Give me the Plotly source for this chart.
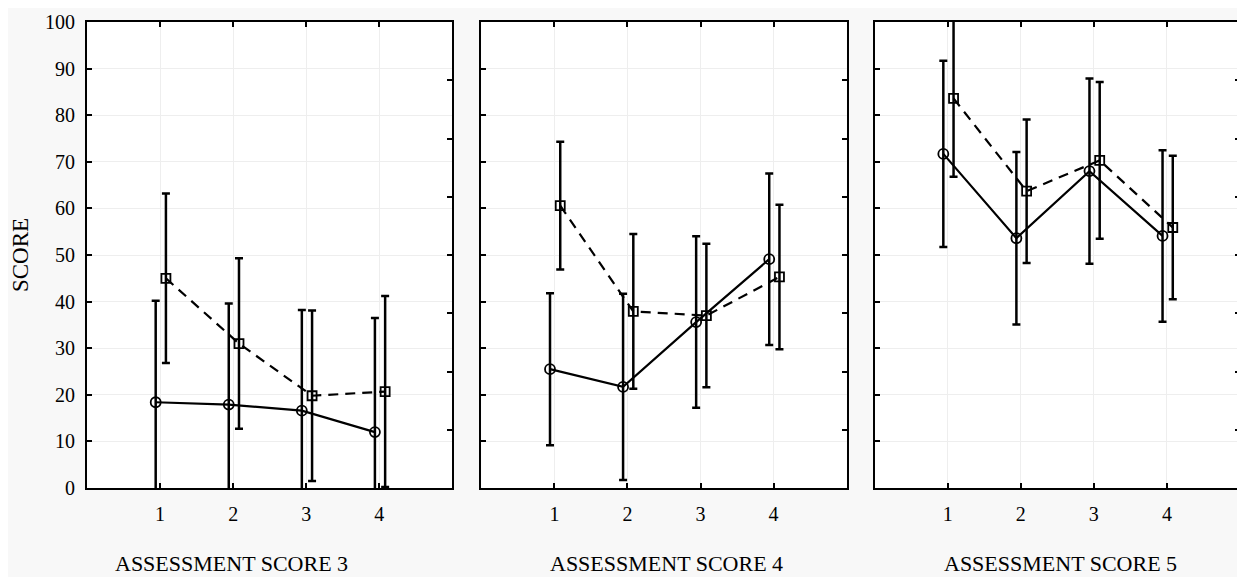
import plotly.graph_objects as go

categories = [1, 2, 3, 4]
panel_titles = ["ASSESSMENT SCORE 3", "ASSESSMENT SCORE 4", "ASSESSMENT SCORE 5"]
y_ticks = [0, 10, 20, 30, 40, 50, 60, 70, 80, 90, 100]
right_ticks = [0, 12.5, 25, 37.5, 50, 62.5, 75, 87.5, 100]

# circle series (solid line) means and errors per panel
circle_p1 = [18.4, 17.9, 16.6, 12.0]
circle_err_p1 = [21.8, 21.7, 21.6, 24.5]
circle_p2 = [25.5, 21.7, 35.6, 49.1]
circle_err_p2 = [16.3, 20.0, 18.4, 18.4]
circle_p3 = [71.7, 53.6, 68.0, 54.1]
circle_err_p3 = [20.0, 18.5, 19.9, 18.4]

# square series (dashed line) means and errors per panel
square_p1 = [45.0, 31.0, 19.8, 20.7]
square_err_p1 = [18.2, 18.3, 18.3, 20.5]
square_p2 = [60.6, 37.9, 37.0, 45.3]
square_err_p2 = [13.7, 16.6, 15.4, 15.5]
square_p3 = [83.6, 63.7, 70.3, 55.9]
square_err_p3 = [16.8, 15.4, 16.8, 15.4]

circles = [(circle_p1, circle_err_p1), (circle_p2, circle_err_p2), (circle_p3, circle_err_p3)]
squares = [(square_p1, square_err_p1), (square_p2, square_err_p2), (square_p3, square_err_p3)]

FONT = "Liberation Serif"
PAGE_OFF = 8  # default body margin of the html page
W, H = 1245 - PAGE_OFF, 577 - PAGE_OFF
ML, MR, MT, MB = 87 - PAGE_OFF, 3, 22 - PAGE_OFF, 89
plot_w = W - ML - MR
plot_h = H - MT - MB
domains = [(87, 453), (482, 848), (876, 1242)]
domains = [((a - 87) / plot_w, (b - 87) / plot_w) for a, b in domains]
title_centers = [232, 668, 1062]

C_OFF, S_OFF = -0.06, 0.08
fig = go.Figure()
annotations = []

for i in range(3):
    sx = "" if i == 0 else str(i + 1)
    xr = "x" + sx
    yr = "y" + sx
    cy, ce = circles[i]
    sy, se = squares[i]
    fig.add_trace(go.Scatter(
        x=[c + C_OFF for c in categories], y=cy, xaxis=xr, yaxis=yr,
        mode="lines+markers",
        line=dict(color="black", width=2.2),
        marker=dict(symbol="circle-open", size=10, color="black", line=dict(width=1.8)),
        error_y=dict(type="data", array=ce, visible=True, color="black", thickness=2.5, width=4),
        showlegend=False, hoverinfo="skip"))
    fig.add_trace(go.Scatter(
        x=[c + S_OFF for c in categories], y=sy, xaxis=xr, yaxis=yr,
        mode="lines+markers",
        line=dict(color="black", width=2.2, dash="10px,7px"),
        marker=dict(symbol="square-open", size=9, color="black", line=dict(width=1.8)),
        error_y=dict(type="data", array=se, visible=True, color="black", thickness=2.5, width=4),
        showlegend=False, hoverinfo="skip"))
    # right-side overlay axis (ticks only)
    ry = "y" + str(i + 4)
    fig.add_trace(go.Scatter(x=[], y=[], xaxis=xr, yaxis=ry, showlegend=False, hoverinfo="skip"))

    xa = dict(domain=list(domains[i]), anchor=yr, range=[0, 5], tickvals=categories,
              ticks="inside", ticklen=5, tickwidth=2, tickcolor="black",
              showline=True, linewidth=2, linecolor="black", mirror="ticks",
              showgrid=True, gridcolor="#eeeeee", gridwidth=1, zeroline=False,
              tickfont=dict(family=FONT, size=20, color="black"),
              ticklabelstandoff=7)
    ya = dict(domain=[0, 1], anchor=xr, range=[0, 100], tickvals=y_ticks,
              ticks="inside", ticklen=5, tickwidth=2, tickcolor="black",
              showline=True, linewidth=2, linecolor="black", mirror=True,
              showgrid=True, gridcolor="#eeeeee", gridwidth=1, zeroline=False,
              showticklabels=(i == 0),
              tickfont=dict(family=FONT, size=20, color="black"))
    if i == 0:
        ya["ticklabelstandoff"] = 6
        ya["title"] = dict(text="SCORE", font=dict(family=FONT, size=23, color="black"), standoff=12)
    ra = dict(overlaying=yr, side="right", anchor=xr, range=[0, 100], tickvals=right_ticks,
              ticks="inside", ticklen=5, tickwidth=2, tickcolor="black",
              showticklabels=False, showgrid=False, showline=False, zeroline=False)
    fig.layout["xaxis" + sx] = xa
    fig.layout["yaxis" + sx] = ya
    fig.layout["yaxis" + str(i + 4)] = ra

    annotations.append(dict(
        text=panel_titles[i], xref="paper", yref="paper",
        x=(title_centers[i] - 87) / plot_w, y=-(563 - 488) / plot_h,
        xanchor="center", yanchor="middle", showarrow=False,
        font=dict(family=FONT, size=22, color="black")))

fig.update_layout(
    width=W, height=H,
    margin=dict(l=ML, r=MR, t=MT, b=MB),
    paper_bgcolor="#f8f8f8", plot_bgcolor="white",
    font=dict(family=FONT, color="black"),
    annotations=annotations,
)

fig.write_html("out.html")
